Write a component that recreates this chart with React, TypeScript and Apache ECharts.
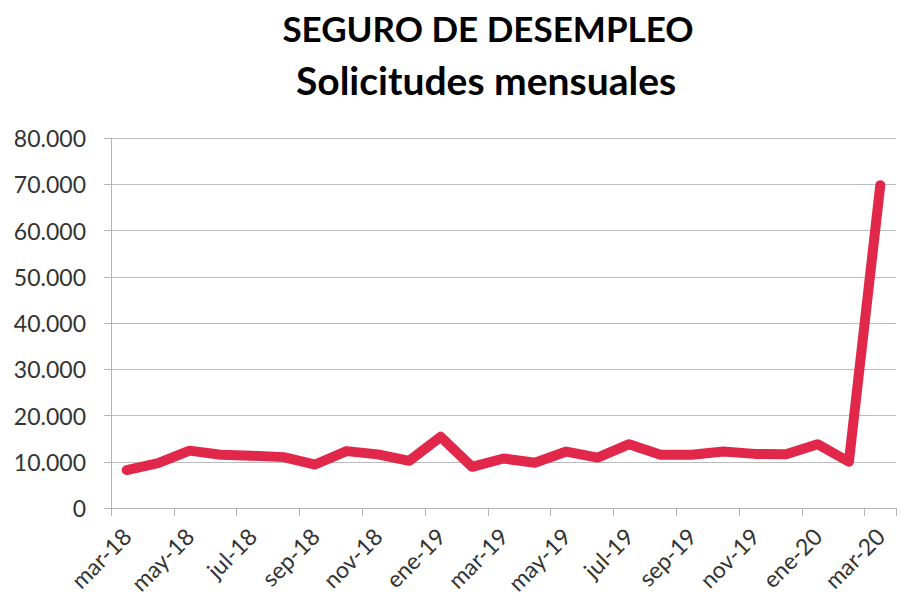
import React, { useEffect, useRef } from "react";
import * as echarts from "echarts";

const categories = [
  "mar-18", "abr-18", "may-18", "jun-18", "jul-18", "ago-18", "sep-18", "oct-18", "nov-18", "dic-18",
  "ene-19", "feb-19", "mar-19", "abr-19", "may-19", "jun-19", "jul-19", "ago-19", "sep-19", "oct-19",
  "nov-19", "dic-19", "ene-20", "feb-20", "mar-20",
];
const solicitudes = [
  8200, 9700, 12400, 11500, 11300, 11000, 9400, 12300, 11600, 10200,
  15400, 8900, 10700, 9800, 12200, 10900, 13800, 11500, 11500, 12200,
  11700, 11600, 13800, 10000, 69800,
];
const titleLines = ["SEGURO DE DESEMPLEO", "Solicitudes mensuales"];

const fmt = (v: number) => String(v).replace(/\B(?=(\d{3})+(?!\d))/g, ".");

export default function App() {
  const ref = useRef<HTMLDivElement>(null);
  useEffect(() => {
    if (!ref.current) return;
    const chart = echarts.init(ref.current, null, { renderer: "svg" });
    const font = "Lato, 'Open Sans', sans-serif";
    chart.setOption({
      animation: false,
      backgroundColor: "#ffffff",
      graphic: [
        {
          type: "text",
          x: 488,
          y: 28,
          style: {
            text: titleLines[0],
            align: "center",
            verticalAlign: "middle",
            fontFamily: font,
            fontWeight: "bold",
            fontSize: 35,
            fill: "#000",
          },
        },
        {
          type: "text",
          x: 486,
          y: 80,
          style: {
            text: titleLines[1],
            align: "center",
            verticalAlign: "middle",
            fontFamily: font,
            fontWeight: "bold",
            fontSize: 39,
            fill: "#000",
          },
        },
      ],
      grid: { left: 111, right: 17, top: 138, bottom: 101, containLabel: false },
      xAxis: {
        type: "category",
        data: categories,
        boundaryGap: true,
        axisLine: { show: true, lineStyle: { color: "#b4b4b4", width: 1 } },
        axisTick: { show: true, interval: 1, length: 8, alignWithLabel: false, lineStyle: { color: "#b4b4b4" } },
        axisLabel: {
          interval: 1,
          rotate: 45,
          margin: 24,
          fontFamily: font,
          fontSize: 23,
          color: "#333",
        },
        splitLine: { show: false },
      },
      yAxis: {
        type: "value",
        min: 0,
        max: 80000,
        interval: 10000,
        axisLine: { show: true, lineStyle: { color: "#b4b4b4", width: 1 } },
        axisTick: { show: true, length: 7, lineStyle: { color: "#b4b4b4" } },
        axisLabel: {
          formatter: (v: number) => fmt(v),
          margin: 25,
          fontFamily: font,
          fontSize: 23,
          color: "#333",
        },
        splitLine: { show: true, lineStyle: { color: "#bcbcbc", width: 1 } },
      },
      series: [
        {
          type: "line",
          data: solicitudes,
          symbol: "none",
          smooth: false,
          lineStyle: { color: "#e2284a", width: 10, cap: "round", join: "round" },
        },
      ],
    });
    return () => chart.dispose();
  }, []);
  return (
    <div
      ref={ref}
      style={{ position: "absolute", left: 0, top: 0, width: 913, height: 609, background: "#fff" }}
    />
  );
}
